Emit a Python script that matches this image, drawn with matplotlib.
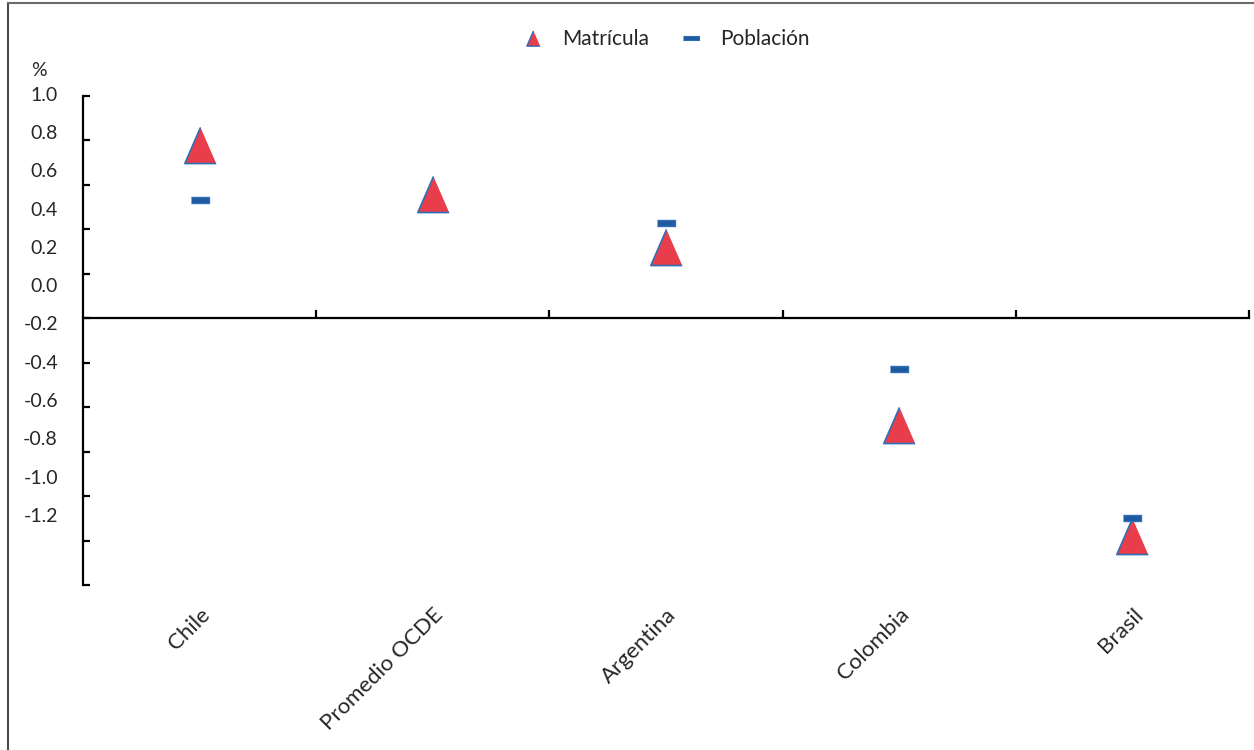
import numpy as np
import matplotlib
matplotlib.use("Agg")
import matplotlib.pyplot as plt
from matplotlib.lines import Line2D

plt.rcParams['font.family'] = ['Lato', 'DejaVu Sans']
plt.rcParams['axes.unicode_minus'] = False

# data (change in %)
countries = ['Chile', 'Promedio OCDE', 'Argentina', 'Colombia', 'Brasil']
matricula = [0.78, 0.56, 0.32, -0.48, -0.98]
poblacion = [0.53, np.nan, 0.43, -0.23, -0.90]
y_ticks = [1.0, 0.8, 0.6, 0.4, 0.2, 0.0, -0.2, -0.4, -0.6, -0.8, -1.0, -1.2]

RED = '#e83e4c'
BLUE = '#2f6fb5'
DASH = '#1f5aa0'
TXT = '#262626'

tri = [(0, 1), (-0.87, -1), (0.87, -1)]
bar = [(-1, -0.3), (1, -0.3), (1, 0.3), (-1, 0.3)]

Y_TOP = 1.02  # a little headroom so the top label is not clipped

fig = plt.figure(figsize=(12.54, 7.5), dpi=100)
top_px = 96 - (Y_TOP - 1.0) * 222.3
ax = fig.add_axes([83 / 1254, 1 - 585 / 750, 1166 / 1254, (585 - top_px) / 750])

x = np.arange(len(countries))
ax.plot(x, matricula, ls='none', marker=tri, ms=26, mfc=RED, mec=BLUE,
        mew=1.2, zorder=3)
ax.plot(x, poblacion, ls='none', marker=bar, ms=13, mfc=DASH, mec=BLUE,
        mew=1.0, zorder=4)

ax.set_xlim(-0.5, len(countries) - 0.5)
ax.set_ylim(-1.2, Y_TOP)

# axes lines: left spine + horizontal axis crossing at zero
for side in ['top', 'right']:
    ax.spines[side].set_visible(False)
ax.spines['bottom'].set_position(('data', 0))
ax.spines['bottom'].set_linewidth(1.6)
ax.spines['left'].set_linewidth(1.6)
ax.spines['left'].set_bounds(-1.2, 1.0)

ax.set_xticks(np.arange(0.5, len(countries), 1.0))
ax.tick_params(axis='x', direction='in', length=6, width=1.6, labelbottom=False)
ax.set_yticks(y_ticks)
ax.tick_params(axis='y', direction='in', length=5, width=1.6, labelleft=False)

# category labels at the bottom of the plot area
sx = ax.secondary_xaxis('bottom')
sx.set_xticks(x)
sx.set_xticklabels(countries, rotation=45, ha='right', rotation_mode='anchor',
                   fontsize=16, color=TXT)
sx.tick_params(length=0, pad=14)
sx.spines['bottom'].set_visible(False)


# value labels, spaced as in the original (not aligned with the ticks)
def to_label(d):
    return (d - 0.149) / 0.862


def to_data(v):
    return 0.149 + 0.862 * v


sy = ax.secondary_yaxis('left', functions=(to_label, to_data))
sy.set_yticks(y_ticks)
sy.set_yticklabels([f'{v:.1f}' for v in y_ticks], fontsize=14, color=TXT)
sy.tick_params(length=0, pad=18)
sy.spines['left'].set_visible(False)

ax.text(39 / 1254, 1 - 70 / 750, '%', transform=fig.transFigure,
        ha='center', va='center', fontsize=14, color=TXT)

handles = [
    Line2D([], [], ls='none', marker=tri, ms=11, mfc=RED, mec=BLUE, mew=1.0),
    Line2D([], [], ls='none', marker=bar, ms=11, mfc=DASH, mec=BLUE, mew=0.8),
]
fig.legend(handles, ['Matrícula', 'Población'], loc='center',
           bbox_to_anchor=(666 / 1254, 1 - 39 / 750), ncol=2, frameon=False,
           fontsize=15, handlelength=1.0, handletextpad=0.9,
           columnspacing=1.5, labelcolor=TXT)

# outer frame (left and top edges only)
fig.add_artist(Line2D([8 / 1254, 8 / 1254], [0, 1 - 3 / 750],
                      transform=fig.transFigure, color='#4a4a4a', lw=1.5))
fig.add_artist(Line2D([8 / 1254, 1], [1 - 3 / 750, 1 - 3 / 750],
                      transform=fig.transFigure, color='#6a6a6a', lw=1.5))

fig.savefig('out.png', dpi=100)
